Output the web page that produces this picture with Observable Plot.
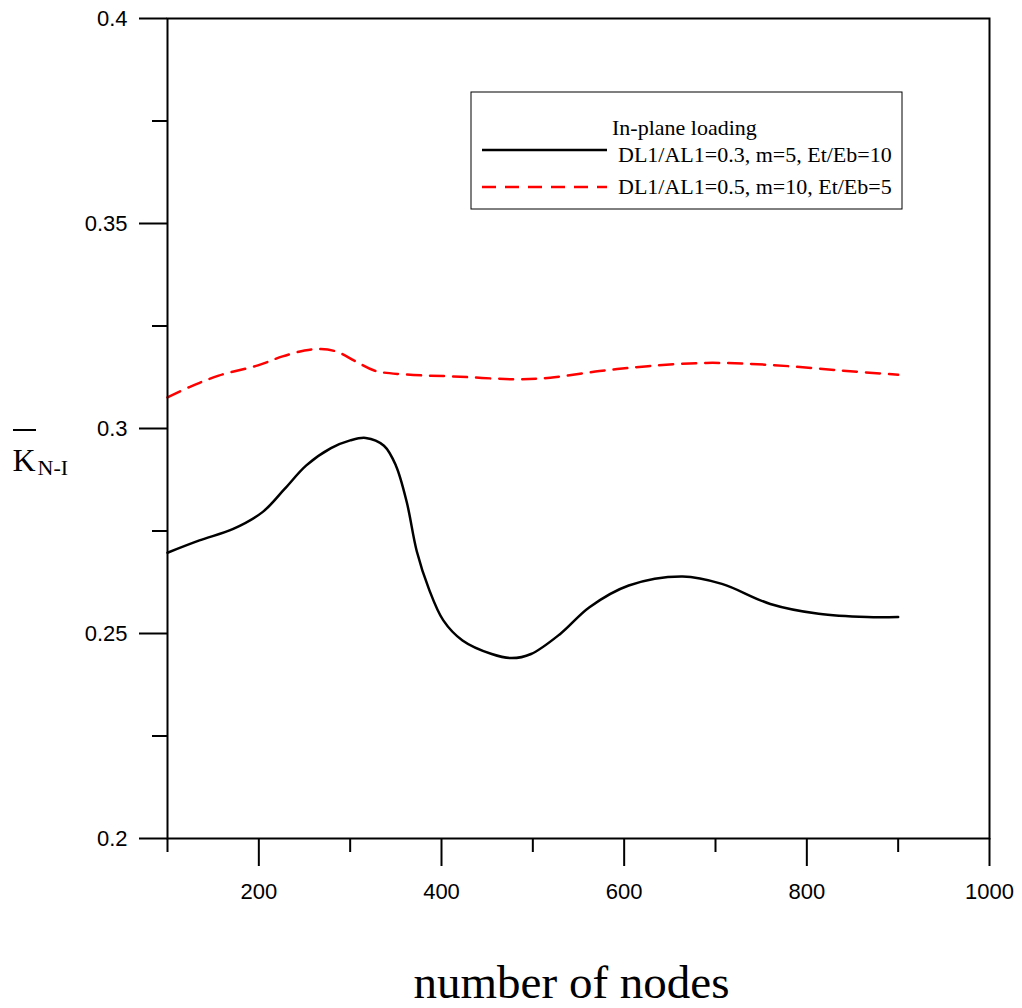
<!DOCTYPE html>
<html><head><meta charset="utf-8">
<script src="https://cdn.jsdelivr.net/npm/d3@7"></script>
<script src="https://cdn.jsdelivr.net/npm/@observablehq/plot@0.6"></script>
<style>html,body{margin:0;padding:0;background:#fff;overflow:hidden}</style>
</head><body><div id="chart"></div>
<script>
// Series 1: DL1/AL1=0.3, m=5, Et/Eb=10 (solid black)
const nodesA = [100,135,172,204,228,252,279,300,317,337,350,362,373,386,402,423,455,477,498,530,562,605,664,707,760,813,866,900];
const kA = [0.2697,0.2727,0.2755,0.2796,0.2852,0.2910,0.2952,0.2971,0.2977,0.2958,0.2910,0.2820,0.2700,0.2610,0.2532,0.2483,0.2450,0.2440,0.2450,0.2499,0.2564,0.2617,0.2639,0.2621,0.2572,0.2548,0.2540,0.2540];
// Series 2: DL1/AL1=0.5, m=10, Et/Eb=5 (dashed red)
const nodesB = [100,124,156,199,226,250,268,286,305,327,359,413,485,519,573,626,690,760,840,900];
const kB = [0.3076,0.3101,0.3129,0.3154,0.3176,0.3190,0.3194,0.3187,0.3165,0.3141,0.3132,0.3127,0.3120,0.3124,0.3140,0.3152,0.3160,0.3155,0.3141,0.3131];

const seriesNames = ["DL1/AL1=0.3, m=5, Et/Eb=10", "DL1/AL1=0.5, m=10, Et/Eb=5"];
const legendTitle = "In-plane loading";
const xTicksMajor = [200,400,600,800,1000];
const xTicksMinor = [100,300,500,700,900];
const yTicksMajor = [0.2,0.25,0.3,0.35,0.4];
const yTicksMinor = [0.225,0.275,0.325,0.375];
const xTitle = "number of nodes";

const dataA = nodesA.map((n,i) => ({n, k: kA[i]}));
const dataB = nodesB.map((n,i) => ({n, k: kB[i]}));

const serif = "'Liberation Serif', 'Times New Roman', serif";

const plot = Plot.plot({
  width: 1022, height: 1008,
  marginLeft: 167, marginRight: 33, marginTop: 18, marginBottom: 170,
  style: {fontFamily: "'Liberation Sans', Arial, sans-serif", fontSize: "22px", color: "black", background: "white", overflow: "visible"},
  x: {domain: [100, 1000], label: null},
  y: {domain: [0.2, 0.4], label: null},
  marks: [
    Plot.axisY({ticks: yTicksMajor, tickSize: 28, tickPadding: 12, strokeWidth: 2, tickFormat: d => `${d}`, fontSize: 22}),
    Plot.axisY({ticks: yTicksMinor, tickSize: 15, strokeWidth: 2, tickFormat: () => ""}),
    Plot.axisX({ticks: xTicksMajor, tickSize: 28, tickPadding: 17, strokeWidth: 2, tickFormat: d => `${d}`, fontSize: 22}),
    Plot.axisX({ticks: xTicksMinor, tickSize: 14, strokeWidth: 2, tickFormat: () => ""}),
    Plot.line(dataB, {x: "n", y: "k", stroke: "#ff0000", strokeWidth: 2.5, strokeDasharray: "14,9", curve: "catmull-rom"}),
    Plot.line(dataA, {x: "n", y: "k", stroke: "black", strokeWidth: 2.5, curve: "catmull-rom"}),
    Plot.frame({stroke: "black", strokeWidth: 2}),
    Plot.text([xTitle], {frameAnchor: "bottom", dx: -7, dy: 159, lineAnchor: "bottom", fontFamily: serif, fontSize: 47, fill: "black"}),
    Plot.text(["K"], {frameAnchor: "left", textAnchor: "start", dx: -155, dy: 42, lineAnchor: "bottom", fontFamily: serif, fontSize: 32, fill: "black"}),
    Plot.text(["N-I"], {frameAnchor: "left", textAnchor: "start", dx: -130, dy: 46, lineAnchor: "bottom", fontFamily: serif, fontSize: 22, fill: "black"})
  ]
});
document.getElementById("chart").appendChild(plot);

const svg = d3.select(plot);
// overbar on K
svg.append("line").attr("x1", 13).attr("x2", 36).attr("y1", 430).attr("y2", 430).attr("stroke", "black").attr("stroke-width", 2);

// legend
const lg = svg.append("g").attr("text-anchor", "start");
lg.append("rect").attr("x", 471).attr("y", 92).attr("width", 431).attr("height", 117)
  .attr("fill", "white").attr("stroke", "black").attr("stroke-width", 1);
lg.append("text").attr("x", 612).attr("y", 135).attr("text-anchor", "start").attr("font-family", serif).attr("font-size", 22).attr("fill", "black").text(legendTitle);
const rows = [{y: 150, ty: 162, stroke: "black", dash: null}, {y: 187, ty: 194, stroke: "#ff0000", dash: "14,9"}];
rows.forEach((r, i) => {
  const l = lg.append("line").attr("x1", 482).attr("x2", 607).attr("y1", r.y).attr("y2", r.y)
    .attr("stroke", r.stroke).attr("stroke-width", 2.5);
  if (r.dash) l.attr("stroke-dasharray", r.dash);
  lg.append("text").attr("x", 618).attr("y", r.ty).attr("text-anchor", "start").attr("font-family", serif).attr("font-size", 22).attr("fill", "black").text(seriesNames[i]);
});
</script>
</body></html>
